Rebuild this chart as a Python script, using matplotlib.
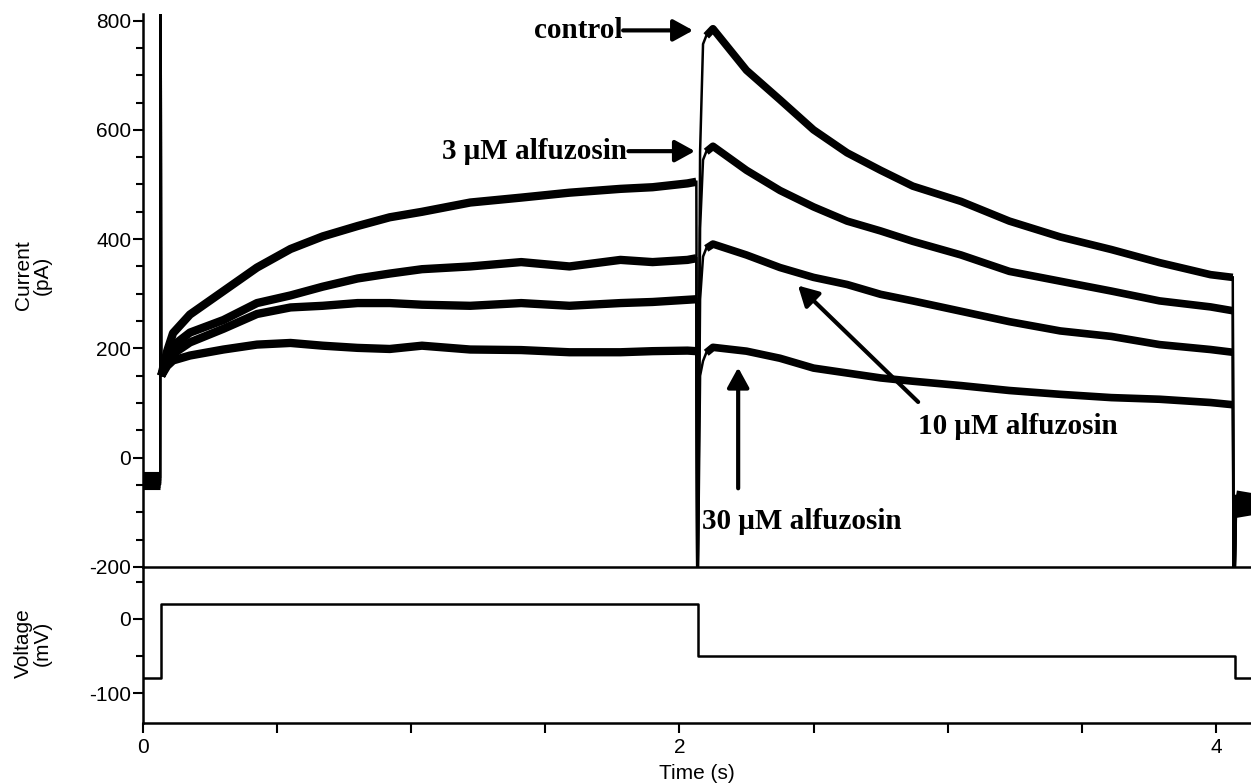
#
#	hERG-like tail current recording with alfuzosin, plus voltage protocol
#

# ----- Imports ----- #

import numpy as np
import matplotlib.pyplot as plt
from matplotlib.ticker import MultipleLocator

# ----- Data ----- #

# Time points (s)
hold_t = [0.0, 0.064]
act_t = [0.068, 0.09, 0.112, 0.175, 0.30, 0.425, 0.55, 0.67, 0.80, 0.92, 1.04,
		 1.22, 1.41, 1.59, 1.78, 1.90, 2.03, 2.063]
tail_t = [2.10, 2.125, 2.25, 2.375, 2.50, 2.625, 2.75, 2.87, 3.05, 3.23,
		  3.42, 3.61, 3.79, 3.98, 4.063]
end_t = [4.075, 4.135]

# Currents (pA): holding, activation step, tail step, back to holding
ctrl_hold = [-35, -35]
ctrl_act = [150, 195, 228, 262, 305, 348, 382, 405, 424, 440, 450, 467, 476, 485, 492, 495, 502, 505]
ctrl_tail = [772, 785, 709, 655, 600, 558, 526, 497, 469, 433, 404, 381, 357, 335, 330]
ctrl_end = [-70, -75]

alf3_hold = [-40, -40]
alf3_act = [150, 180, 205, 229, 252, 283, 297, 313, 328, 337, 345, 350, 358, 350, 362, 358, 362, 365]
alf3_tail = [560, 570, 526, 489, 459, 433, 415, 396, 371, 341, 323, 305, 287, 276, 269]
alf3_end = [-80, -85]

alf10_hold = [-45, -45]
alf10_act = [150, 172, 190, 211, 236, 263, 275, 278, 283, 283, 280, 278, 283, 278, 283, 285, 289, 290]
alf10_tail = [383, 391, 371, 348, 330, 317, 299, 287, 268, 249, 232, 222, 207, 198, 193]
alf10_end = [-90, -90]

alf30_hold = [-48, -48]
alf30_act = [150, 168, 178, 187, 198, 207, 210, 205, 201, 199, 205, 198, 197, 193, 193, 195, 196, 195]
alf30_tail = [192, 202, 195, 182, 164, 155, 146, 140, 132, 123, 116, 110, 107, 101, 97]
alf30_end = [-100, -95]

# Capacitive transients (pA)
spike_peak = 1000
spike_dip = -300
rise_mid = [560, 420, 290, 150]

# Voltage protocol (mV)
step_t = [0.0, 0.066, 2.069, 4.07, 4.135]
step_v = [-80, 20, -50, -80, -80]

# Annotation labels
labels = ["control", "3 \u03bcM alfuzosin", "10 \u03bcM alfuzosin", "30 \u03bcM alfuzosin"]

# ----- Plotting ----- #

plt.rcParams['font.family'] = ['Liberation Sans', 'DejaVu Sans']
plt.rcParams['font.size'] = 15
plt.rcParams['axes.unicode_minus'] = False

W, H = 1251, 783
fig = plt.figure(figsize=(W / 100, H / 100), dpi=100)
ax_v = fig.add_axes([143 / W, 1 - 723 / H, (W - 143) / W, (723 - 567) / H])
ax_i = fig.add_axes([143 / W, 1 - 567 / H, (W - 143) / W, (567 - 14) / H])
ax_i.patch.set_visible(False)
ax_v.patch.set_visible(False)

x_max = 4.131

traces = [
	(ctrl_hold, ctrl_act, ctrl_tail, ctrl_end),
	(alf3_hold, alf3_act, alf3_tail, alf3_end),
	(alf10_hold, alf10_act, alf10_tail, alf10_end),
	(alf30_hold, alf30_act, alf30_tail, alf30_end),
]

for k, (hold, act, tail, end) in enumerate(traces):
	# Thin transient connectors
	ax_i.plot([hold_t[-1], 0.066, act_t[0]], [hold[-1], spike_peak, act[0]], color='k', lw=1.6)
	ax_i.plot([act_t[-1], 2.067, 2.077, 2.088, tail_t[0]],
			  [act[-1], spike_dip, rise_mid[k], tail[0] - 15, tail[0]], color='k', lw=1.8)
	ax_i.plot([tail_t[-1], 4.067, end_t[0]], [tail[-1], spike_dip, end[0]], color='k', lw=1.8)

	# Noisy segments drawn as thick bands
	ax_i.plot(hold_t, hold, color='k', lw=8, solid_capstyle='butt')
	ax_i.plot(act_t, act, color='k', lw=6, solid_capstyle='butt', solid_joinstyle='round')
	ax_i.plot(tail_t, tail, color='k', lw=5.5, solid_capstyle='butt', solid_joinstyle='round')
	ax_i.plot(end_t, end, color='k', lw=8, solid_capstyle='butt')

ax_i.set_xlim(0, x_max)
ax_i.set_ylim(-200, 812)
ax_i.spines['top'].set_visible(False)
ax_i.spines['right'].set_visible(False)
ax_i.spines['left'].set_linewidth(1.8)
ax_i.spines['bottom'].set_linewidth(1.8)
ax_i.yaxis.set_major_locator(MultipleLocator(200))
ax_i.yaxis.set_minor_locator(MultipleLocator(50))
ax_i.tick_params(axis='y', which='major', length=7.5, width=1.5, pad=1, labelsize=15)
ax_i.tick_params(axis='y', which='minor', length=5, width=1.5)
ax_i.tick_params(axis='x', which='both', bottom=False, labelbottom=False)

# Voltage panel
ax_v.step(step_t, step_v, where='post', color='k', lw=1.8)
ax_v.set_xlim(0, x_max)
ax_v.set_ylim(-140, 70)
ax_v.spines['top'].set_visible(False)
ax_v.spines['right'].set_visible(False)
ax_v.spines['left'].set_linewidth(1.8)
ax_v.spines['bottom'].set_linewidth(1.8)
ax_v.yaxis.set_major_locator(MultipleLocator(100))
ax_v.yaxis.set_minor_locator(MultipleLocator(50))
ax_v.xaxis.set_major_locator(MultipleLocator(2))
ax_v.xaxis.set_minor_locator(MultipleLocator(0.5))
ax_v.tick_params(axis='y', which='major', length=7.5, width=1.5, pad=1, labelsize=15)
ax_v.tick_params(axis='y', which='minor', length=5, width=1.5)
ax_v.tick_params(axis='x', which='both', length=7.5, width=1.5, pad=3, labelsize=15)
ax_v.set_xlabel("Time (s)", fontsize=15, labelpad=5)

# Axis titles
fig.text(33 / W, 1 - 275 / H, "Current\n(pA)", rotation=90, ha='center', va='center',
		 multialignment='center', fontsize=15, linespacing=1.0)
fig.text(33 / W, 1 - 643 / H, "Voltage\n(mV)", rotation=90, ha='center', va='center',
		 multialignment='center', fontsize=15, linespacing=1.0)

# Annotations
serif = dict(family=['Liberation Serif', 'DejaVu Serif'], weight='bold', size=21)
arrow = dict(arrowstyle='-|>,head_length=0.4,head_width=0.22', mutation_scale=30, lw=3,
			 color='k', shrinkA=0, shrinkB=0)

ax_i.text(1.786, 782, labels[0], ha='right', va='center', **serif)
ax_i.annotate('', xy=(2.051, 782), xytext=(1.79, 782), arrowprops=arrow)

ax_i.text(1.805, 561, labels[1], ha='right', va='center', **serif)
ax_i.annotate('', xy=(2.058, 561), xytext=(1.81, 561), arrowprops=arrow)

ax_i.text(2.89, 58, labels[2], ha='left', va='center', **serif)
ax_i.annotate('', xy=(2.442, 315), xytext=(2.89, 102), arrowprops=arrow)

ax_i.text(2.085, -116, labels[3], ha='left', va='center', **serif)
ax_i.annotate('', xy=(2.219, 165), xytext=(2.219, -56), arrowprops=arrow)

fig.savefig("out.png", dpi=100)
